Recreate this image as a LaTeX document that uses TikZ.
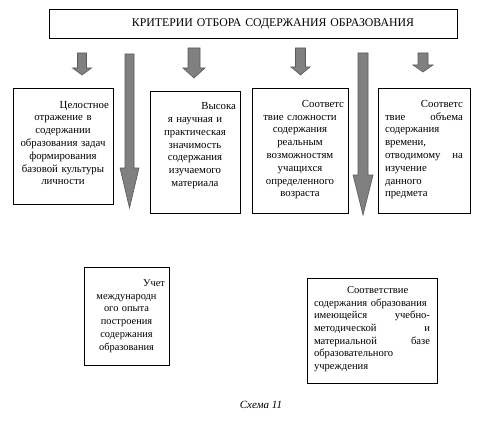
\documentclass[tikz,border=0pt]{standalone}
\usepackage{fontspec}
\setmainfont{Liberation Serif}
\newcommand{\rline}[1]{\makebox[\hsize][r]{#1}}
\newcommand{\jline}[1]{\makebox[\hsize][s]{#1}}

\begin{document}
\begin{tikzpicture}[
    x=1pt, y=-1pt,
    crit/.style={rectangle, draw, line width=0.6pt, inner xsep=4pt, inner ysep=3pt, align=center, font=\fontsize{10.8}{12.8}\selectfont},
    blockarrow/.style={draw=black!65, fill=gray, line width=0.6pt}
]
    \useasboundingbox[fill=white] (0,0) rectangle (489,433);

    % Заголовок
    \node[crit, minimum height=29pt, text width=400pt, font=\fontsize{11.8}{13}\selectfont] (title) at (253,23.5) {\hspace*{40pt}КРИТЕРИИ ОТБОРА СОДЕРЖАНИЯ ОБРАЗОВАНИЯ};

    % Стрелки
    \draw[blockarrow] (77.5,53) -- (86.5,53) -- (86.5,68) -- (91.5,68) -- (82,75) -- (72.5,68) -- (77.5,68) -- cycle;
    \draw[blockarrow] (188,48) -- (200,48) -- (200,68) -- (205,68) -- (194,78) -- (183,68) -- (188,68) -- cycle;
    \draw[blockarrow] (295.5,48) -- (305.5,48) -- (305.5,67) -- (310,67) -- (300.5,75) -- (291,67) -- (295.5,67) -- cycle;
    \draw[blockarrow] (418,53) -- (428,53) -- (428,65) -- (433,65) -- (423,72) -- (413,65) -- (418,65) -- cycle;
    \draw[blockarrow] (125,54) -- (134,54) -- (134,168) -- (139,168) -- (129.5,208) -- (120,168) -- (125,168) -- cycle;
    \draw[blockarrow] (358,53) -- (368,53) -- (368,175) -- (373,175) -- (363,215) -- (353,175) -- (358,175) -- cycle;

    % Критерии, верхний ряд
    \node[crit, minimum height=116pt, text width=92pt] (integr) at (63,146) {\rline{Целостное}\\отражение в\\содержании\\образования задач\\формирования\\базовой культуры\\личности\rule[-6pt]{0pt}{0pt}};
    \node[crit, minimum height=122pt, text width=82pt] (znach) at (195,152) {\rline{Высока}\\я научная и\\практическая\\значимость\\содержания\\изучаемого\\материала\rule[-15pt]{0pt}{0pt}};
    \node[crit, minimum height=125pt, text width=88pt] (slozh) at (300,150.5) {\rline{Соответс}\\твие сложности\\содержания\\реальным\\возможностям\\учащихся\\определенного\\возраста\rule[-4pt]{0pt}{0pt}};
    \node[crit, minimum height=125pt, text width=78pt, inner xsep=7pt, align=left] (obem) at (424,150.5) {\rline{Соответс}\\\jline{твие \hfill объема}\\содержания\\времени,\\\jline{отводимому \hfill на}\\изучение\\данного\\предмета\rule[-4pt]{0pt}{0pt}};

    % Критерии, нижний ряд
    \node[crit, minimum height=98pt, text width=77pt, font=\fontsize{10.4}{12.8}\selectfont] (opyt) at (126.5,316) {\rline{Учет}\\международн\\ого опыта\\построения\\содержания\\образования};
    \node[crit, minimum height=105pt, text width=116pt, inner xsep=7pt, align=left, font=\fontsize{10.6}{12.6}\selectfont] (baza) at (372,330.5) {\hspace*{33pt}Соответствие\\\jline{содержания образования}\\\jline{имеющейся \hfill учебно-}\\\jline{методической \hfill и}\\\jline{материальной \hfill базе}\\образовательного\\учреждения\rule[-5pt]{0pt}{0pt}};

    % Подпись
    \node[font=\itshape\fontsize{11}{13}\selectfont] (caption) at (261,405) {Схема 11};
\end{tikzpicture}
\end{document}
